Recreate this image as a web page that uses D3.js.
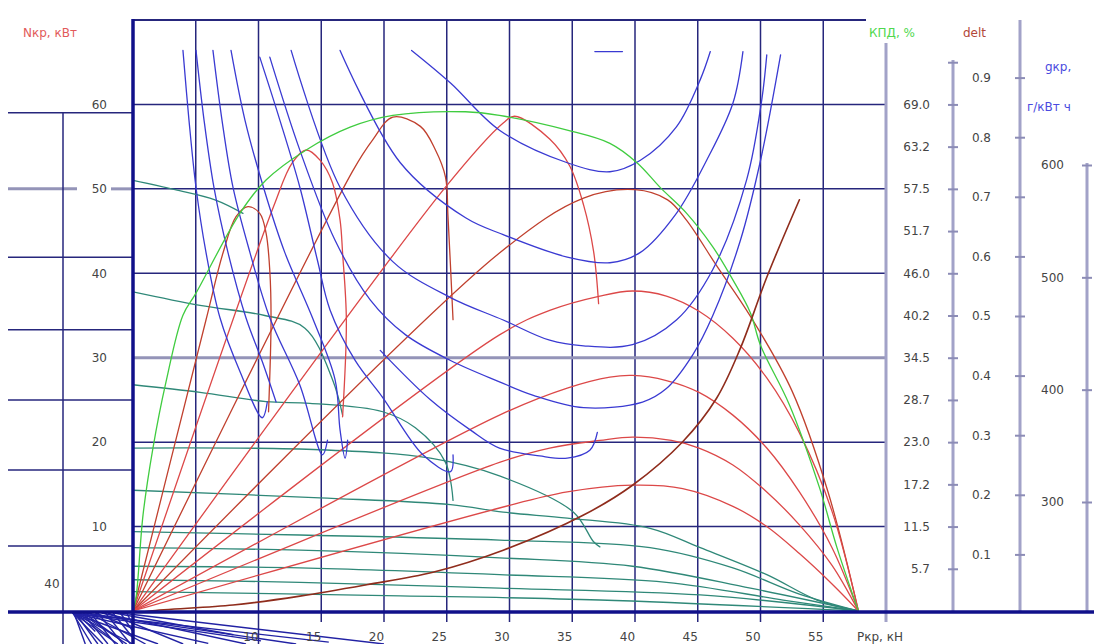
<!DOCTYPE html>
<html>
<head>
<meta charset="utf-8">
<script src="https://cdn.jsdelivr.net/npm/d3@7"></script>
<style>
  html, body { margin: 0; padding: 0; background: #ffffff; }
  svg { display: block; font-family: "DejaVu Sans", Verdana, sans-serif; }
</style>
</head>
<body>
<svg id="chart" width="1094" height="644"></svg>
<script>
// ---- axis ticks ----
const pGrid = [5, 10, 15, 20, 25, 30, 35, 40, 45, 50, 55];
const pTicks = [10, 15, 20, 25, 30, 35, 40, 45, 50, 55];
const nGrid = [10, 20, 30, 40, 50, 60];
const nTicks = [10, 20, 30, 40, 50, 60];
const effTicks = [5.75, 11.5, 17.25, 23, 28.75, 34.5, 40.25, 46, 51.75, 57.5, 63.25, 69, 74.75];
const effTickLabels = ["5.7", "11.5", "17.2", "23.0", "28.7", "34.5", "40.2", "46.0", "51.7", "57.5", "63.2", "69.0", ""];
const deltTicks = [0.1, 0.2, 0.3, 0.4, 0.5, 0.6, 0.7, 0.8, 0.9];
const deltTickLabels = ["0.1", "0.2", "0.3", "0.4", "0.5", "0.6", "0.7", "0.8", "0.9"];
const gTicks = [300, 400, 500, 600];
// levels of the side panel on the left (kW scale)
const panelLevels = [7.7, 16.7, 25.0, 33.3, 41.9, 50.0, 59.0];

// ---- tractive efficiency, % vs Pkr, kN ----
const effCurve = [[0,0],[0.24,1.8],[0.8,13.1],[1.59,22.2],[2.63,31.2],[3.98,40.3],[5.02,43.3],
  [8.53,54.2],[10.6,58.7],[13.8,62.8],[17.3,65.9],[20.7,67.5],[26.5,68.0],[29.2,67.5],[34.6,65.5],
  [38.0,63.7],[40.2,61.0],[42.0,57.7],[44.1,54.2],[46.2,49.6],[47.8,45.1],[49.2,40.6],[50.0,36.2],
  [52.3,28.1],[54.7,16.8],[56.1,8.6],[57.8,0]];

// ---- drawbar power Nkr, kW, per gear ----
const power1 = [[0,0],[5.82,34.5],[7.17,42.4],[8.21,46.7],[9.16,47.9],[10.1,47.1],[10.6,44.8],[10.9,40.3],[11.0,34.5],[10.8,23.6]];
const power2 = [[0,0],[11.2,47.9],[12.7,53.1],[13.8,54.6],[14.9,53.4],[15.9,50.7],[16.5,46.3],[16.7,42.4],[17.0,34.5],[16.7,23.0]];
const power3 = [[0,0],[17.5,52.1],[19.1,55.8],[20.7,58.5],[22.9,57.4],[24.1,54.6],[24.9,51.4],[25.1,46.7],[25.5,34.5]];
const power4 = [[0,0],[24.9,50.2],[29.5,57.8],[30.4,58.6],[33.2,55.9],[34.8,52.7],[35.9,48.1],[36.7,42.6],[37.1,36.4]];
const power5 = [[0,0],[29.2,42.4],[35.9,48.9],[40.0,49.9],[42.6,48.7],[44.1,46.3],[46.5,40.9],[49.2,34.9],[52.5,26.1],[55.4,14.0],[57.8,0]];
const power6 = [[0,0],[29.2,32.7],[33.2,35.6],[37.2,37.3],[39.8,37.9],[42.5,37.3],[45.1,35.5],[47.8,32.3],[50.5,27.6],[53.1,21.1],[55.7,11.8],[57.8,0]];
const power7 = [[0,0],[29.2,23.2],[34.6,26.4],[38.0,27.7],[39.8,27.9],[42.5,27.3],[45.1,25.9],[47.8,23.2],[50.5,19.3],[53.1,14.1],[55.7,7.5],[57.8,0]];
const power8 = [[0,0],[29.2,17.6],[33.2,19.3],[37.2,20.2],[39.8,20.6],[42.9,20.2],[45.1,19.3],[47.8,17.3],[50.5,14.1],[53.1,10.2],[55.7,5.4],[57.8,0]];
const power9 = [[0,0],[29.2,12.2],[34.6,14.1],[39.8,14.9],[43.8,14.5],[47.8,12.4],[50.5,10.0],[53.1,6.8],[55.7,3.2],[57.8,0]];

// ---- wheel slip delt vs Pkr ----
const slipCurve = [[0,0],[1.35,0.005],[7.97,0.015],[13.3,0.030],[18.6,0.049],[23.9,0.070],[29.5,0.107],
  [35.9,0.166],[39.8,0.216],[43.8,0.289],[46.5,0.362],[48.4,0.446],[50.5,0.565],[53.1,0.695]];

// ---- specific fuel consumption gkr, g/kWh ----
const fuel1 = [[3.98,702],[4.46,640],[5.02,580],[5.82,522],[6.93,464],[8.53,416],[10.3,375],[10.7,389]];
const fuel2 = [[5.02,702],[5.66,640],[6.45,580],[7.57,522],[9.00,464],[10.3,425],[11.4,389]];
const fuel3 = [[6.37,702],[7.09,640],[7.97,580],[9.32,522],[10.9,464],[13.3,404],[15.1,342],[15.5,355]];
const fuel4 = [[7.81,702],[8.92,640],[10.4,580],[12.1,522],[14.3,464],[16.1,409],[16.5,364],[16.9,339],[17.1,355]];
const fuel5 = [[10.1,696],[11.7,640],[13.3,580],[14.7,515],[15.7,471],[17.7,426],[19.9,393],[23.1,342],[25.3,327],[25.5,342]];
const fuel6 = [[19.7,435],[23.7,391],[26.9,364],[29.2,348],[32.4,341],[34.6,339],[36.4,346],[37.0,362]];
const fuel7 = [[10.9,696],[13.3,613],[16.1,533],[18.9,480],[21.7,449],[25.3,426],[29.2,407],[31.9,395],[35.9,384],
  [40.6,389],[42.5,401],[44.6,431],[46.2,466],[48.4,533],[50.0,604],[51.6,698]];
const fuel8 = [[12.6,702],[16.5,580],[20.7,514],[25.3,482],[29.5,462],[33.2,444],[35.9,439],[39.8,440],
  [43.3,462],[46.2,507],[48.9,587],[50.1,658],[50.5,698]];
const fuel9 = [[16.5,702],[21.3,602],[26.5,553],[29.5,538],[34.6,518],[38.0,513],[40.4,522],[43.3,557],
  [45.7,604],[47.8,655],[48.6,701]];
const fuel10 = [[22.2,702],[25.3,673],[29.2,631],[34.6,602],[38.0,594],[40.4,604],[43.3,634],[45.2,676],[46.0,701]];
const fuelMark = [[36.8,701],[39.0,701]];

// ---- travel speed curves (kW grid units) ----
const speed1 = [[0,51.0],[3.35,49.9],[6.53,48.7],[8.76,47.1]];
const speed2 = [[0,37.8],[5.34,36.2],[10.5,35.0],[13.7,33.5],[15.9,27.4],[16.7,23.2]];
const speed3 = [[0,26.8],[5.34,25.9],[10.6,24.8],[14.1,24.6],[19.9,23.6],[22.5,21.7],[24.9,17.6],[25.5,13.1]];
const speed4 = [[0,19.3],[14.9,19.1],[23.7,18.1],[29.2,16.0],[35.1,11.7],[36.7,8.2],[37.2,7.6]];
const speed5 = [[0,14.3],[14.9,13.4],[25.3,12.6],[29.5,11.7],[34.6,11.0],[41.2,9.8],[45.2,7.5],[50.5,4.3],[54.5,1.3],[57.8,0]];
const speed6 = [[0,9.4],[13.3,9.0],[29.2,8.4],[41.2,7.5],[47.8,5.1],[53.1,2.0],[57.8,0]];
const speed7 = [[0,7.5],[13.3,7.2],[29.2,6.3],[39.8,5.3],[49.2,2.7],[57.8,0]];
const speed8 = [[0,5.3],[13.3,5.1],[29.2,4.3],[42.5,3.4],[51.8,1.3],[57.8,0]];
const speed9 = [[0,3.7],[13.3,3.4],[29.2,2.7],[45.2,1.9],[57.8,0]];
const speed10 = [[0,2.3],[21.3,1.8],[37.2,1.3],[57.8,0]];

// ---- lower quadrant rays ----
const lowerRays = [
  [[-4.8,0],[15.6,9.4]], [[-4.8,0],[10.2,9.0]], [[-4.8,0],[6.0,9.8]], [[-4.8,0],[2.0,10]],
  [[-4.8,0],[0,10]], [[-4.8,0],[-1.2,10]], [[-4.8,0],[-2.4,10]], [[-4.8,0],[-3.3,10]],
  [[-3.8,0],[13.0,10]], [[-3.0,0],[0,5]], [[-2.0,0],[4.0,10]], [[-1.5,0],[8.0,7]],
  [[-4.2,0],[-0.5,10]], [[-3.5,0],[1.0,10]], [[-1.0,0],[20.0,10]], [[-2.5,0],[9.0,10]],
  [[-4.6,0],[-2.8,10]], [[-4.0,0],[-2.0,10]], [[-3.4,0],[-1.4,10]], [[-2.8,0],[-0.8,10]],
  [[-2.2,0],[-0.2,10]], [[-1.6,0],[0,8]], [[-1.0,0],[0,6]], [[-0.5,0],[0,4]],
  [[-4.4,0],[-1.8,8]], [[-3.9,0],[-0.9,9]], [[-4.7,0],[-3.8,10]], [[-4.5,0],[-3.0,6]]
];

// ---- scales ----
const svg = d3.select("#chart");
const x = d3.scaleLinear().domain([0, 60]).range([133, 886]);
const yN = d3.scaleLinear().domain([0, 70]).range([611, 20]);
const yEff = d3.scaleLinear().domain([0, 80.5]).range([611, 20]);
const yDelt = d3.scaleLinear().domain([0, 1]).range([614, 18]);
const yG = d3.scaleLinear().domain([300, 600]).range([502, 165]);
const yLow = d3.scaleLinear().domain([0, 10]).range([613, 644]);

const navy = "#26267c";
const gridW = 1.5;

svg.append("rect").attr("width", 1094).attr("height", 644).attr("fill", "#fff");

// ---- left side panel ----
const panel = svg.append("g");
panelLevels.forEach(v => {
  const yy = yN(v);
  if (v === 50.0) {
    panel.append("line").attr("x1", 8).attr("x2", 77).attr("y1", yy).attr("y2", yy)
      .attr("stroke", "#9494b8").attr("stroke-width", 3);
    panel.append("line").attr("x1", 111).attr("x2", 133).attr("y1", yy).attr("y2", yy)
      .attr("stroke", "#9494b8").attr("stroke-width", 3);
  } else {
    panel.append("line").attr("x1", 8).attr("x2", 133).attr("y1", yy).attr("y2", yy)
      .attr("stroke", navy).attr("stroke-width", gridW);
  }
});
panel.append("line").attr("x1", 63).attr("x2", 63).attr("y1", yN(59.0)).attr("y2", 644)
  .attr("stroke", navy).attr("stroke-width", gridW);
panel.append("text").attr("x", 52).attr("y", 588).attr("text-anchor", "middle")
  .attr("font-size", 12).attr("fill", "#444").text("40");

// ---- main grid ----
const grid = svg.append("g");
pGrid.forEach(p => {
  grid.append("line").attr("x1", x(p)).attr("x2", x(p)).attr("y1", 20).attr("y2", p <= 10 ? 644 : 622)
    .attr("stroke", navy).attr("stroke-width", gridW);
});
nGrid.forEach(n => {
  const gray = n === 30;
  grid.append("line").attr("x1", 133).attr("x2", 886).attr("y1", yN(n)).attr("y2", yN(n))
    .attr("stroke", gray ? "#9494b8" : navy).attr("stroke-width", gray ? 3 : gridW);
});
grid.append("line").attr("x1", 133).attr("x2", 866).attr("y1", yN(70)).attr("y2", yN(70))
  .attr("stroke", navy).attr("stroke-width", 2);

// ---- right side scales ----
function sideAxis(scale, xPos, values, labels, yTop, yBottom, pad) {
  const g = svg.append("g").attr("transform", `translate(${xPos},0)`);
  g.append("line").attr("x1", 0).attr("x2", 0).attr("y1", yTop).attr("y2", yBottom)
    .attr("stroke", "#a2a2c8").attr("stroke-width", 3);
  const axis = d3.axisLeft(scale).tickValues(values).tickSize(5).tickPadding(pad)
    .tickFormat((d, i) => labels[i]);
  const a = g.append("g").call(axis);
  a.select(".domain").remove();
  a.selectAll(".tick line").attr("x1", -5).attr("x2", 5).attr("stroke", "#8c8cb6").attr("stroke-width", 2);
  a.selectAll(".tick text").attr("font-size", 12).attr("fill", "#444")
    .attr("font-family", "DejaVu Sans, sans-serif");
  return g;
}
// boundary of the efficiency scale
svg.append("line").attr("x1", 886).attr("x2", 886).attr("y1", 43).attr("y2", 622)
  .attr("stroke", "#a2a2c8").attr("stroke-width", 3);
sideAxis(yEff, 953, effTicks, effTickLabels, 60, 611, 18);
sideAxis(yDelt, 1020, deltTicks, deltTickLabels, 20, 611, 24);
sideAxis(yG, 1087, gTicks, gTicks.map(String), 163, 611, 18);

// ---- axis titles ----
const titles = [
  {t: "Nкр, кВт", x: 23, y: 37, c: "#e25a5a"},
  {t: "КПД, %", x: 869, y: 37, c: "#4fd84f"},
  {t: "delt", x: 963, y: 37, c: "#b2483a"},
  {t: "gкр,", x: 1045, y: 71, c: "#4a4ae0"},
  {t: "г/кВт ч", x: 1027, y: 111, c: "#4a4ae0"},
  {t: "Pкр, кН", x: 857, y: 641, c: "#444"}
];
titles.forEach(d => svg.append("text").attr("x", d.x).attr("y", d.y).attr("font-size", 12)
  .attr("fill", d.c).text(d.t));

// ---- Nkr tick labels on the left panel ----
const nAxis = svg.append("g").attr("transform", "translate(107,0)")
  .call(d3.axisLeft(yN).tickValues(nTicks).tickSize(0).tickPadding(0));
nAxis.select(".domain").remove();
nAxis.selectAll(".tick text").attr("font-size", 12).attr("fill", "#444")
  .attr("font-family", "DejaVu Sans, sans-serif");

// ---- curves ----
const plot = svg.append("g");
svg.append("clipPath").attr("id", "plotClip").append("rect")
  .attr("x", 133).attr("y", 20).attr("width", 753).attr("height", 592);
plot.attr("clip-path", "url(#plotClip)");

const lineOf = yScale => d3.line().x(d => x(d[0])).y(d => yScale(d[1])).curve(d3.curveCatmullRom.alpha(0.5));
function draw(group, data, yScale, color, w) {
  group.append("path").datum(data).attr("d", lineOf(yScale))
    .attr("fill", "none").attr("stroke", color).attr("stroke-width", w)
    .attr("stroke-linejoin", "round").attr("stroke-linecap", "round");
}

[speed1, speed2, speed3, speed4, speed5, speed6, speed7, speed8, speed9, speed10]
  .forEach(s => draw(plot, s, yN, "#2f8878", 1.3));

[power1, power2, power3, power4, power5, power6, power7, power8, power9]
  .forEach((s, i) => draw(plot, s, yN, (i === 0 || i === 2 || i === 4) ? "#c0402e" : "#dc4848", 1.3));

[fuel1, fuel2, fuel3, fuel4, fuel5, fuel6, fuel7, fuel8, fuel9, fuel10, fuelMark]
  .forEach(s => draw(plot, s, yG, "#3a3ad2", 1.3));

draw(plot, effCurve, yEff, "#40cc40", 1.3);
draw(plot, slipCurve, yDelt, "#8f2c1c", 1.6);

// ---- lower quadrant rays ----
const low = svg.append("g");
lowerRays.forEach(r => {
  low.append("line").attr("x1", x(r[0][0])).attr("y1", yLow(r[0][1]))
    .attr("x2", x(r[1][0])).attr("y2", yLow(r[1][1]))
    .attr("stroke", "#2222a4").attr("stroke-width", 1.4);
});

// ---- main axes ----
svg.append("line").attr("x1", 8).attr("x2", 1094).attr("y1", 612).attr("y2", 612)
  .attr("stroke", "#10108a").attr("stroke-width", 3.5);
svg.append("line").attr("x1", 133).attr("x2", 133).attr("y1", 19).attr("y2", 644)
  .attr("stroke", "#10108a").attr("stroke-width", 3.5);

const xAxis = svg.append("g").attr("transform", "translate(0,612)")
  .call(d3.axisBottom(x).tickValues(pTicks).tickSize(0).tickPadding(20));
xAxis.select(".domain").remove();
xAxis.selectAll(".tick text").attr("font-size", 12).attr("fill", "#444").attr("dx", -8)
  .attr("font-family", "DejaVu Sans, sans-serif");
</script>
</body>
</html>
